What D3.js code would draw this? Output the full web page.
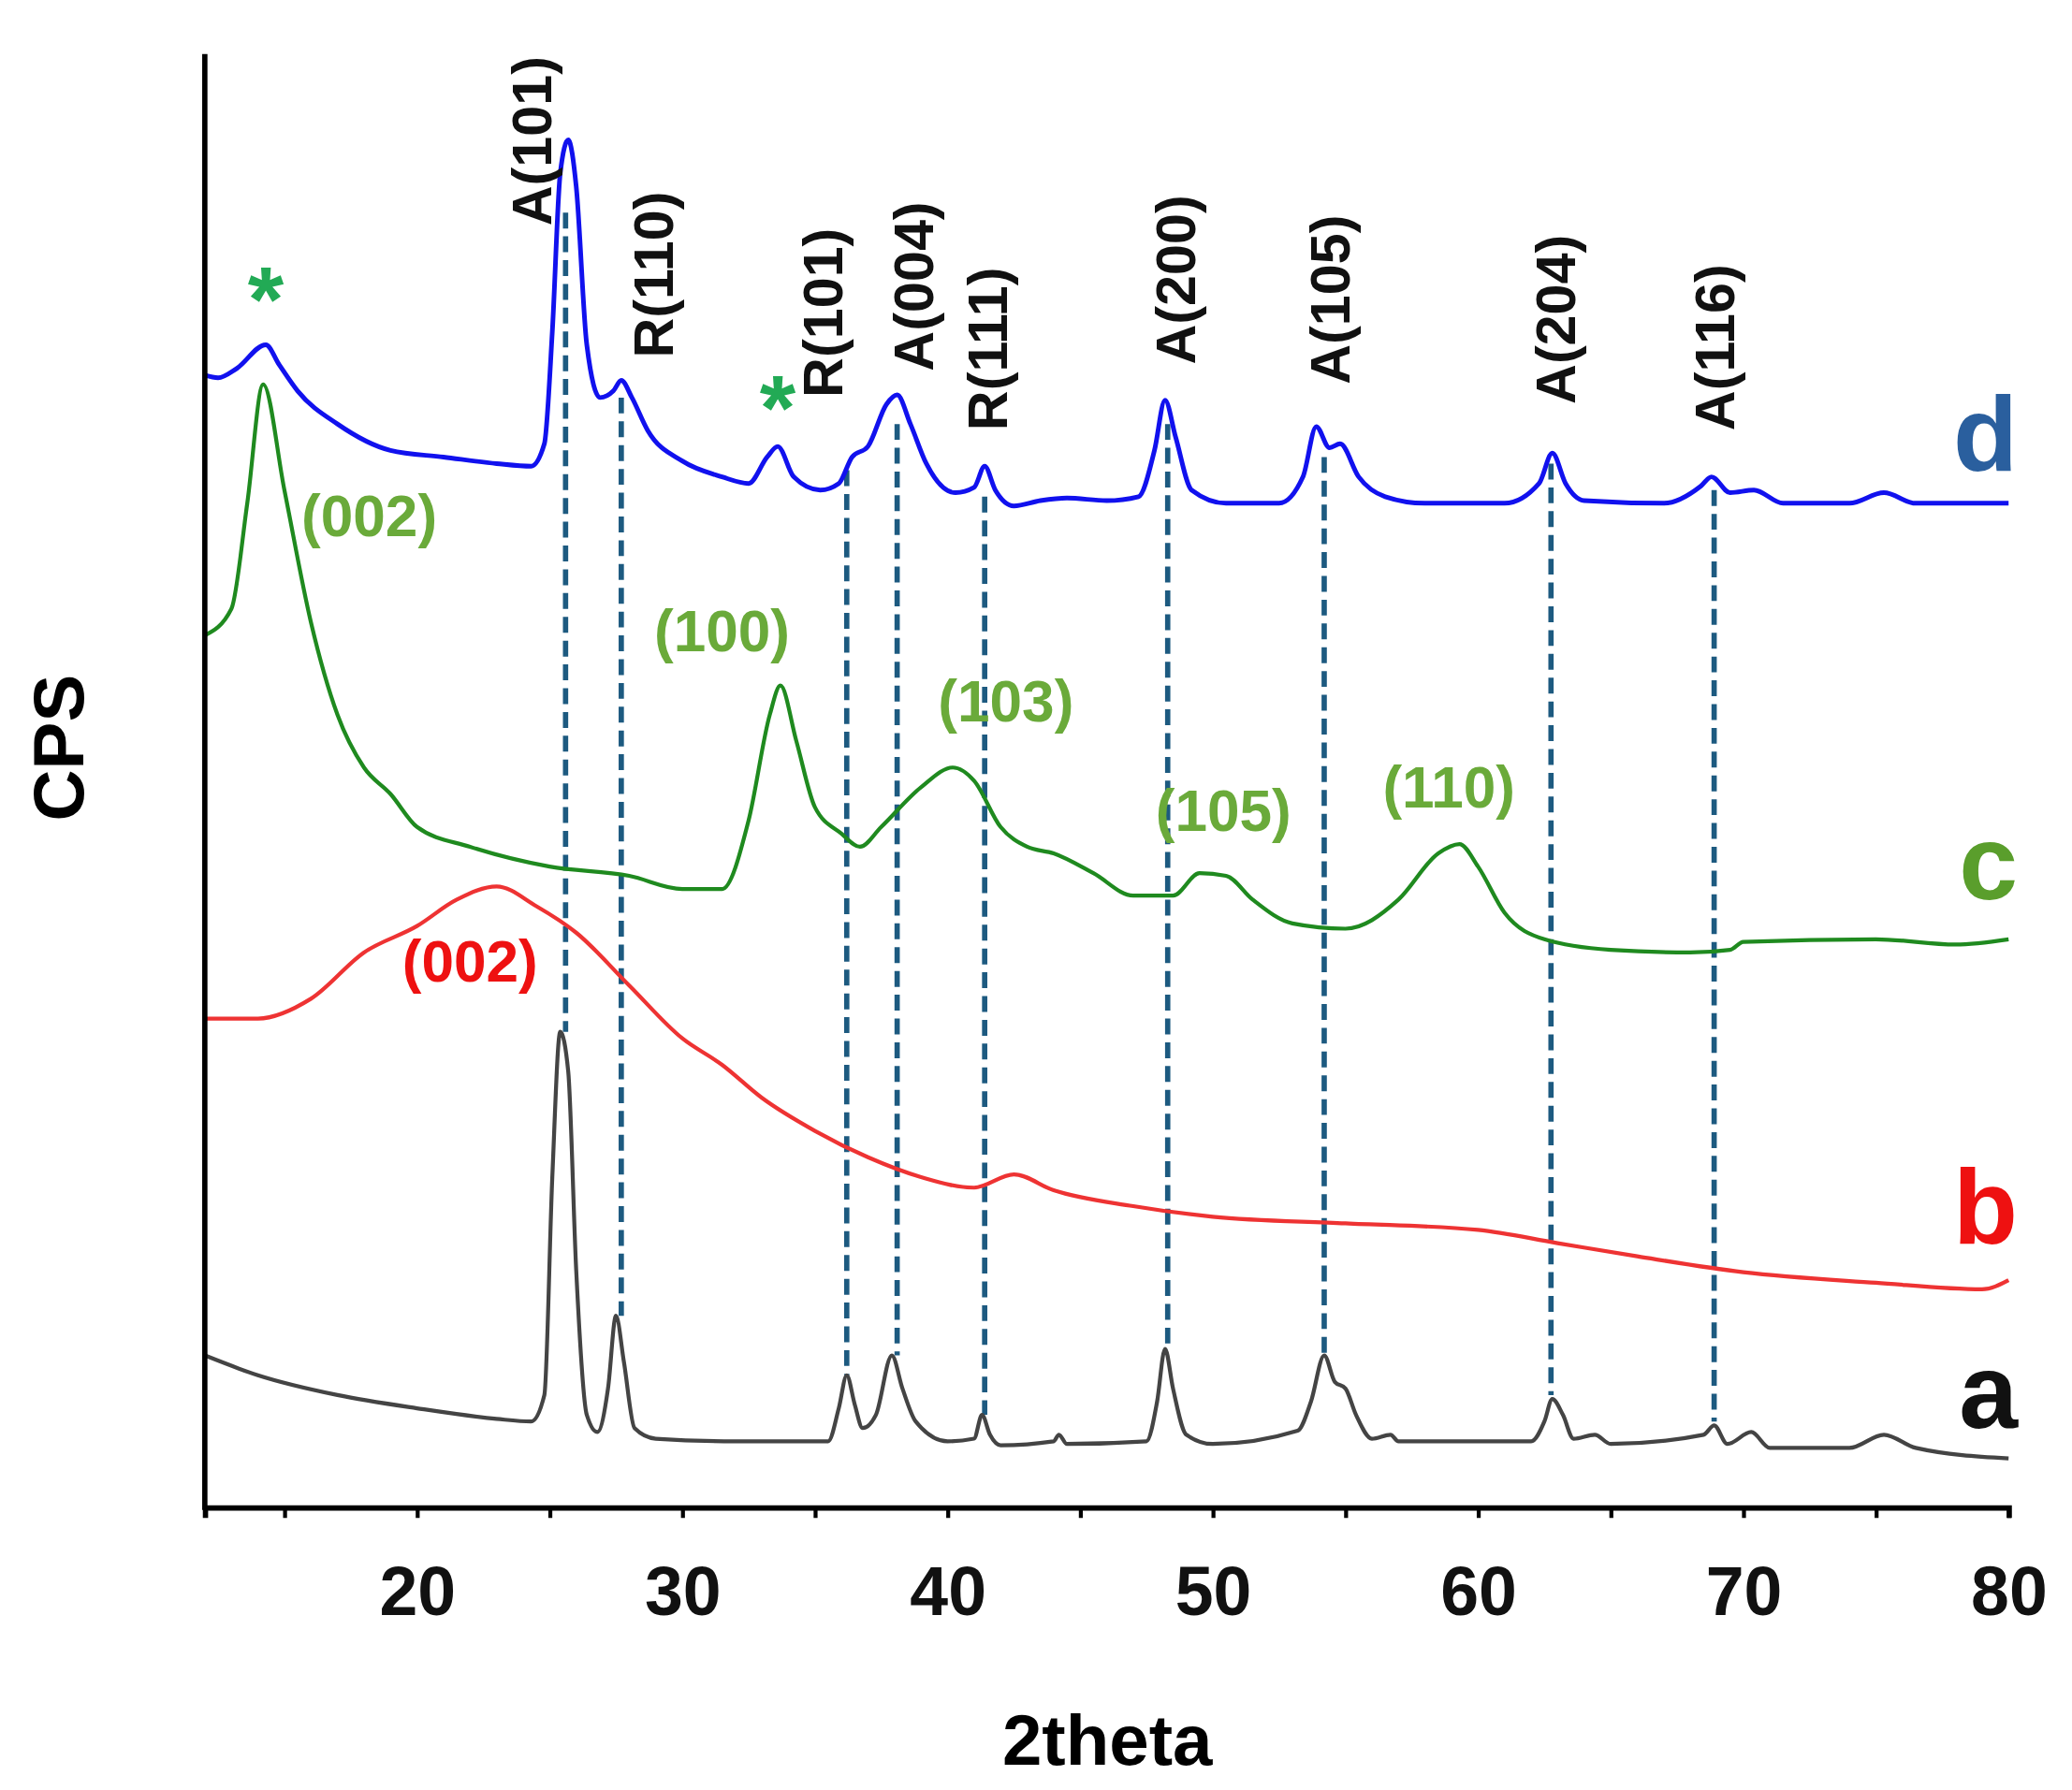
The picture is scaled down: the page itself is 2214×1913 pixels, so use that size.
<!DOCTYPE html>
<html><head><meta charset="utf-8">
<script src="https://cdn.jsdelivr.net/npm/d3@7"></script>
<style>body{margin:0;background:#fff}text{font-family:Arial,"Liberation Sans",sans-serif;font-weight:bold}</style>
</head><body><svg id="chart"></svg>
<script>
// intensity is in arbitrary units (offset stacked), [2theta, intensity]
var seriesA = [[12,115],[14,100],[17,85],[20,75],[23,67],[24.3,65],[24.8,85],[25.1,250],[25.4,360],[25.7,330],[26,180],[26.4,70],[26.8,57],[27.2,90],[27.5,145],[27.8,110],[28.2,60],[29,52],[32,50],[35.5,50],[35.9,75],[36.2,100],[36.5,78],[36.8,60],[37.3,70],[37.9,115],[38.3,90],[38.8,65],[40,50],[41,52],[41.3,70],[41.6,55],[42,47],[44,50],[44.2,55],[44.5,48],[47.5,50],[47.9,80],[48.2,120],[48.5,90],[49,55],[50,48],[53.2,58],[53.7,80],[54.2,115],[54.6,95],[55,90],[55.4,70],[56,52],[56.7,55],[57,50],[62,50],[62.5,65],[62.8,82],[63.2,70],[63.6,52],[64.4,55],[65,48],[68.5,55],[68.9,62],[69.4,48],[70.3,57],[71,45],[74,45],[75.3,55],[76.5,45],[80,37]];
var seriesB = [[12,370],[14,370],[16,385],[18,420],[20,440],[21.5,460],[23,470],[24.5,455],[26,435],[28,395],[30,355],[31.5,335],[33,310],[35,285],[37,265],[39,250],[41,242],[42.5,252],[44,240],[47,228],[50,220],[55,215],[60,210],[63,200],[66,190],[70,178],[75,170],[79,165],[80,172]];
var seriesC = [[12,660],[13,680],[13.6,760],[14.2,850],[15,770],[16,670],[17,600],[18,560],[19,540],[20,515],[22,500],[25,485],[28,478],[30,468],[31.5,468],[32.5,520],[33.3,600],[33.7,622],[34.3,580],[35,530],[36,510],[36.7,500],[37.5,515],[39,545],[40.2,560],[41,550],[42,515],[43,500],[44,495],[45.5,480],[47,463],[48.5,463],[49.5,480],[50.5,478],[51.5,460],[53,442],[55,438],[57,460],[58.5,495],[59.3,502],[60,485],[61,450],[62.5,430],[65,422],[68,420],[69.5,422],[70,428],[75,430],[78,426],[80,430]];
var seriesD = [[12,857],[12.5,855],[13.2,862],[14.3,880],[14.8,865],[15.5,845],[17,820],[19,800],[21,795],[23,790],[24.3,788],[24.8,805],[25.1,890],[25.4,1010],[25.7,1035],[26,1000],[26.4,880],[26.9,840],[27.4,845],[27.7,853],[28.1,840],[28.7,815],[30,792],[31.5,780],[32.5,775],[33.2,795],[33.6,803],[34.2,780],[35.2,770],[35.9,775],[36.4,795],[37,803],[37.7,835],[38.1,842],[38.6,820],[39.2,790],[40.3,768],[41,772],[41.4,788],[41.8,770],[42.5,758],[43.5,762],[44.5,764],[46,762],[47.2,765],[47.8,800],[48.2,838],[48.6,810],[49.2,770],[50.5,760],[52.5,760],[53.4,780],[53.9,818],[54.4,802],[54.8,805],[55.5,780],[56.5,765],[58,760],[61,760],[62.3,775],[62.8,798],[63.3,775],[64,762],[67,760],[68.4,773],[68.8,780],[69.5,768],[70.4,770],[71.5,760],[74,760],[75.3,768],[76.5,760],[79,760],[80,760]];

// dashed reference lines: position, top and bottom intensity
var dashLines = [[25.6,980,360],[27.7,840,145],[36.2,785,100],[38.1,820,115],[41.4,765,70],[48.3,820,120],[54.2,795,115],[62.75,790,85],[68.9,770,65]];
var peakLabels = [["A(101)",24.3,970],["R(110)",28.9,870],["R(101)",35.3,840],["A(004)",38.7,860],["R(111)",41.5,815],["A(200)",48.6,865],["A(105)",54.4,850],["A(204)",62.9,835],["A(116)",68.9,815]];
var greenLabels = [["(002)",18.2,735],["(100)",31.5,648],["(103)",42.2,595],["(105)",50.4,512],["(110)",58.9,530]];
var redLabels = [["(002)",22,398]];
var stars = [[14.3,890],[33.6,808]];
var curveLetters = [["d",785,"#2a5f9e"],["c",460,"#5a9e2c"],["b",200,"#ee1111"],["a",60,"#111"]];

var W = 1568, H = 1353;
var svg = d3.select("#chart").attr("width",2214).attr("height",1913).attr("viewBox","0 0 "+W+" "+H);
var x = d3.scaleLinear().domain([12,80]).range([155,1520]);
var y = d3.scaleLinear().domain([0,1100]).range([1140,40]);

var line = d3.line().x(function(d){return x(d[0]);}).y(function(d){return y(d[1]);}).curve(d3.curveMonotoneX);

svg.selectAll(".dash").data(dashLines).enter().append("line")
  .attr("x1",function(d){return x(d[0]);}).attr("x2",function(d){return x(d[0]);})
  .attr("y1",function(d){return y(d[1]);}).attr("y2",function(d){return y(d[2]);})
  .attr("stroke","#1d5a80").attr("stroke-width",4).attr("stroke-dasharray","12,6");

[[seriesA,"#444",3],[seriesB,"#ee3333",3],[seriesC,"#1f8a1f",3],[seriesD,"#1111ee",3.5]].forEach(function(s){
  svg.append("path").datum(s[0]).attr("d",line).attr("fill","none").attr("stroke",s[1]).attr("stroke-width",s[2]);
});

// axes
svg.append("line").attr("x1",155).attr("x2",155).attr("y1",40).attr("y2",1142).attr("stroke","#000").attr("stroke-width",4);
var xAxis = svg.append("g").attr("transform","translate(0,1140)")
  .call(d3.axisBottom(x).tickValues(d3.range(15,81,5)).tickSize(8).tickFormat(function(d){return d%10===0?d:"";}));
xAxis.select(".domain").attr("stroke-width",4);
xAxis.selectAll(".tick line").attr("stroke-width",3);
xAxis.selectAll("text").attr("font-size",52).attr("font-weight","bold").attr("dy","1.35em").attr("fill","#111");

svg.append("text").attr("x",838).attr("y",1335).attr("text-anchor","middle").attr("font-size",54).text("2theta");
svg.append("text").attr("transform","translate(63,565) rotate(-90)").attr("text-anchor","middle").attr("font-size",54).text("CPS");

svg.selectAll(".pl").data(peakLabels).enter().append("text")
  .attr("transform",function(d){return "translate("+(x(d[1])+15)+","+y(d[2])+") rotate(-90)";})
  .attr("font-size",42).attr("fill","#111").text(function(d){return d[0];});
svg.selectAll(".gl").data(greenLabels).enter().append("text")
  .attr("x",function(d){return x(d[1]);}).attr("y",function(d){return y(d[2]);})
  .attr("text-anchor","middle").attr("font-size",44).attr("fill","#6aaa3a").text(function(d){return d[0];});
svg.selectAll(".rl").data(redLabels).enter().append("text")
  .attr("x",function(d){return x(d[1]);}).attr("y",function(d){return y(d[2]);})
  .attr("text-anchor","middle").attr("font-size",44).attr("fill","#ee1111").text(function(d){return d[0];});
svg.selectAll(".st").data(stars).enter().append("text")
  .attr("x",function(d){return x(d[0]);}).attr("y",function(d){return y(d[1]);})
  .attr("text-anchor","middle").attr("font-size",70).attr("fill","#22aa55").text("*");
svg.selectAll(".cl").data(curveLetters).enter().append("text")
  .attr("x",1527).attr("y",function(d){return y(d[1]);}).attr("text-anchor","end")
  .attr("font-size",80).attr("fill",function(d){return d[2];}).text(function(d){return d[0];});
</script></body></html>
